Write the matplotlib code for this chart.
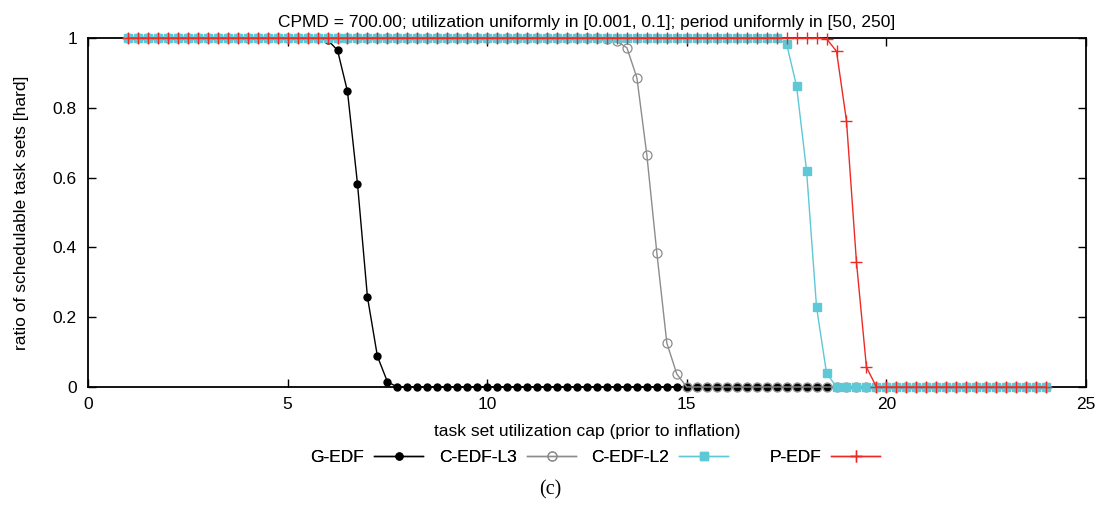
import numpy as np
import matplotlib
matplotlib.use("Agg")
import matplotlib.pyplot as plt

plt.rcParams['font.family'] = ['Liberation Sans', 'DejaVu Sans']

# x grid: task set utilization cap, 1 .. 24 in steps of 0.25
x_vals = np.arange(1.0, 24.0001, 0.25)

g_edf = [1.0] * 20 + [0.995, 0.965, 0.847, 0.583, 0.258, 0.088, 0.015] + [0.0] * 66
c_edf_l3 = [1.0] * 48 + [0.998, 0.99, 0.972, 0.886, 0.664, 0.384, 0.126, 0.037] + [0.0] * 37
c_edf_l2 = [1.0] * 65 + [0.999, 0.983, 0.862, 0.62, 0.229, 0.04] + [0.0] * 22
p_edf = [1.0] * 70 + [0.998, 0.962, 0.763, 0.358, 0.057] + [0.0] * 18

series_names = ["G-EDF", "C-EDF-L3", "C-EDF-L2", "P-EDF"]
x_ticks = [0, 5, 10, 15, 20, 25]
y_ticks = [0, 0.2, 0.4, 0.6, 0.8, 1]
y_ticklabels = ["0", "0.2", "0.4", "0.6", "0.8", "1"]

title = "CPMD = 700.00; utilization uniformly in [0.001, 0.1]; period uniformly in [50, 250]"

W, H = 1103, 507
FS = 12.5

fig = plt.figure(figsize=(W / 100, H / 100), dpi=100)
L, R, T, B = 88, 1086, 38, 387
ax = fig.add_axes([L / W, 1 - B / H, (R - L) / W, (B - T) / H])

common = dict(clip_on=False)
l1, = ax.plot(x_vals, g_edf, color='black', lw=1.0, marker='o', ms=5, mfc='black', mec='black',
              label=series_names[0], zorder=3, **common)
l2, = ax.plot(x_vals, c_edf_l3, color='#8c8c8c', lw=1.0, marker='o', ms=6.5, mfc='none', mec='#8c8c8c',
              mew=0.9, label=series_names[1], zorder=4, **common)
l3, = ax.plot(x_vals, c_edf_l2, color='#5ec8d6', lw=1.0, marker='s', ms=5.5, mfc='#5ec8d6', mec='#5ec8d6',
              label=series_names[2], zorder=5, **common)
l4, = ax.plot(x_vals, p_edf, color='#ee2a24', lw=1.0, marker='+', ms=8, mew=1.0,
              label=series_names[3], zorder=6, **common)

ax.set_xlim(0, 25)
ax.set_ylim(0, 1)
ax.set_xticks(x_ticks)
ax.set_yticks(y_ticks)
ax.set_yticklabels(y_ticklabels)
ax.tick_params(direction='in', top=True, right=True, length=6, width=1, labelsize=FS, pad=7)
ax.tick_params(axis='y', pad=8)
for s in ax.spines.values():
    s.set_linewidth(1.3)
    s.set_zorder(2)

ax.set_title(title, fontsize=FS, pad=8)
ax.set_xlabel("task set utilization cap (prior to inflation)", fontsize=FS, labelpad=9)
ax.set_ylabel("ratio of schedulable task sets [hard]", fontsize=FS, labelpad=17)

# legend entries placed like gnuplot's key: text then line sample
line_ends = [423, 576, 728, 880]
for h, xe in zip([l1, l2, l3, l4], line_ends):
    lg = fig.legend(handles=[h], loc='center right', bbox_to_anchor=(xe / W, 1 - 457 / H),
                    frameon=False, markerfirst=False, fontsize=FS, handlelength=2.8,
                    handletextpad=0.6, borderpad=0, borderaxespad=0)
    fig.add_artist(lg)

fig.text(550 / W, 1 - 490 / H, "(c)", ha='center', va='center', fontsize=14.5,
         family=['Liberation Serif', 'DejaVu Serif'])

fig.savefig("out.png", dpi=100)
